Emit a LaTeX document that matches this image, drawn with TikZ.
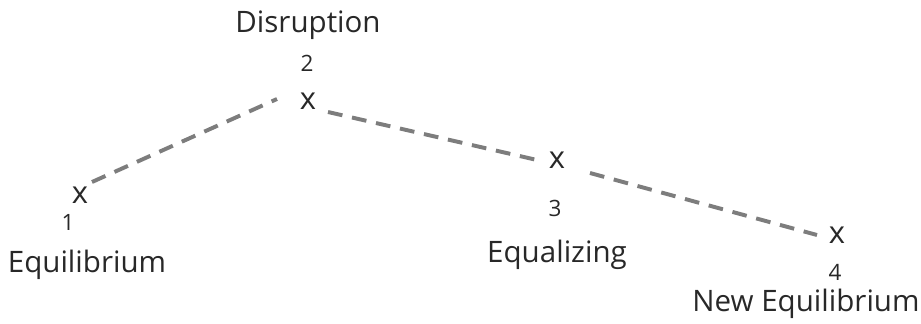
\documentclass[tikz,border=0pt]{standalone}
\usepackage{fontspec}
\setmainfont{Open Sans}
\usetikzlibrary{calc}
\definecolor{dashgray}{RGB}{125,125,125}
\definecolor{inkgray}{RGB}{40,40,40}

\begin{document}
\begin{tikzpicture}[x=0.025cm, y=-0.025cm,
  stagemark/.style={inner sep=0pt, font=\fontsize{22}{22}\selectfont, text=inkgray},
  stagenum/.style={inner sep=0pt, font=\fontsize{16}{16}\selectfont, text=inkgray},
  stagename/.style={inner sep=0pt, font=\fontsize{21}{22}\selectfont, text=inkgray},
  link/.style={draw=dashgray, line width=2.8pt, dash pattern=on 10.5pt off 7pt}
]
\useasboundingbox (0,0) rectangle (921,323);

% stage marks
\node[stagemark] (p1) at (80,195) {x};
\node[stagemark] (p2) at (308,101) {x};
\node[stagemark] (p3) at (557,160) {x};
\node[stagemark] (p4) at (837,235) {x};

% numbers and names
\node[stagenum] (n1) at (68,222) {1};
\node[stagenum] (n2) at (307,63) {2};
\node[stagenum] (n3) at (555,208) {3};
\node[stagenum] (n4) at (835,272) {4};
\node[stagename] (e1) at (87,265) {Equilibrium};
\node[stagename] (e2) at (308,25) {Disruption};
\node[stagename] (e3) at (557,255) {Equalizing};
\node[stagename] (e4) at (806,304) {New Equilibrium};

\draw[link] ($(p1)+(12,-13)$) -- ($(p2)+(-31,-2)$);
\draw[link] ($(p2)+(20,11)$) -- ($(p3)+(-20,0)$);
\draw[link] ($(p3)+(33,13)$) -- ($(p4)+(-20,0)$);
\end{tikzpicture}
\end{document}
